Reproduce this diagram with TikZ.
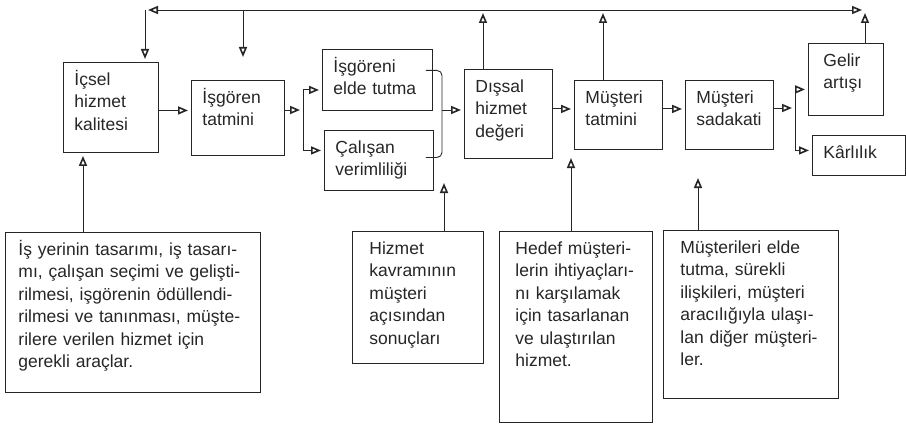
\documentclass[tikz,border=0pt]{standalone}
\usepackage{fontspec}
\setmainfont{Liberation Sans}
\usetikzlibrary{arrows.meta}
\newcommand{\boxfont}{\fontsize{17.5pt}{22.5pt}\selectfont}
\tikzstyle{ubox} = [rectangle, draw, anchor=north west, align=left, inner xsep=11pt, inner ysep=0pt, text height=23pt, font=\boxfont]
\tikzstyle{lbox} = [ubox, inner xsep=17pt]
\tikzstyle{line} = [draw, ->, shorten >=3pt]

\begin{document}
\begin{tikzpicture}[x=1pt, y=-1pt, line width=0.9pt, color=black!85,
    >={Triangle[open, length=10pt, width=8pt, line width=1.6pt]}]
    \useasboundingbox (0,0) rectangle (906,428);

    \node[ubox, text width=73pt, text depth=67pt] (icsel) at (63,62) {İçsel\\hizmet\\kalitesi};
    \node[ubox, text width=71pt, text depth=52pt] (isgoren) at (191,80) {İşgören\\tatmini};
    \node[ubox, text width=88pt, text depth=38pt] (elde) at (322,49) {İşgöreni\\elde tutma};
    \node[ubox, text width=87pt, text depth=37pt] (verim) at (324,130) {Çalışan\\verimliliği};
    \node[ubox, text width=66pt, text depth=66pt] (dissal) at (464,69) {Dışsal\\hizmet\\değeri};
    \node[ubox, text width=66pt, text depth=46pt] (mtatmin) at (574,80) {Müşteri\\tatmini};
    \node[ubox, text width=66pt, text depth=46pt] (sadakat) at (685,80) {Müşteri\\sadakati};
    \node[ubox, text width=45pt, text depth=49pt, inner xsep=15pt] (gelir) at (808,43) {Gelir\\artışı};
    \node[ubox, text width=71pt, text depth=17pt] (karlilik) at (812,135) {Kârlılık};

    \node[lbox, text width=229pt, text depth=137pt, inner xsep=13pt] (tasarim) at (5,232)
        {İş yerinin tasarımı, iş tasarı-\\mı, çalışan seçimi ve gelişti-\\rilmesi, işgörenin ödüllendi-\\rilmesi ve tanınması, müşte-\\rilere verilen hizmet için\\gerekli araçlar.};
    \node[lbox, text width=97pt, text depth=109pt] (kavram) at (352,231)
        {Hizmet\\kavramının\\müşteri\\açısından\\sonuçları};
    \node[lbox, text width=121pt, text depth=168pt, inner xsep=16pt] (hedef) at (499,231)
        {Hedef müşteri-\\lerin ihtiyaçları-\\nı karşılamak\\için tasarlanan\\ve ulaştırılan\\hizmet.};
    \node[lbox, text width=141pt, text depth=145pt] (iliski) at (663,230)
        {Müşterileri elde\\tutma, sürekli\\ilişkileri, müşteri\\aracılığıyla ulaşı-\\lan diğer müşteri-\\ler.};

    \coordinate (tl) at (145,10);
    \coordinate (tr) at (865,10);
    \coordinate (tdown) at (243,60);
    \coordinate (d1) at ([xshift=19pt]dissal.north west);
    \coordinate (m1) at ([xshift=29pt]mtatmin.north west);
    \coordinate (g1) at ([xshift=57pt]gelir.north west);
    \draw[<->, shorten <=3pt, shorten >=3pt] (tl) -- (tr);
    \path[line] (tl) -- (tl |- icsel.north);
    \path[line] (tdown |- tl) -- (tdown);
    \path[line] (d1) -- (d1 |- tl);
    \path[line] (m1) -- (m1 |- tl);
    \path[line] (g1) -- (tr);

    \coordinate (h1) at ([yshift=-3pt]icsel.east);
    \coordinate (j1) at (303,110);
    \path[line] (h1) -- (h1 -| isgoren.west);
    \path[line] (j1 -| isgoren.east) -- (j1);
    \path[line] (j1) |- ([yshift=-10pt]elde.west);
    \path[line] (j1) |- ([yshift=10pt]verim.west);

    \coordinate (bx) at (442,110);
    \draw[rounded corners=5pt] ([xshift=-7pt, yshift=9.5pt]elde.east) -| (bx)
        |- ([xshift=-8pt, yshift=3pt]verim.east);
    \path[line] (bx) -- (bx -| dissal.west);

    \coordinate (h2) at ([yshift=5pt]dissal.east);
    \coordinate (h3) at ([yshift=6pt]mtatmin.east);
    \coordinate (j2) at (795,108);
    \path[line] (h2) -- (h2 -| mtatmin.west);
    \path[line] (h3) -- (h3 -| sadakat.west);
    \path[line] (j2 -| sadakat.east) -- (j2);
    \path[line] (j2) |- ([yshift=-10pt]gelir.west);
    \path[line] (j2) |- ([yshift=5pt]karlilik.west);

    \coordinate (u1) at ([xshift=20pt]icsel.south west);
    \coordinate (u2) at (444,180);
    \coordinate (u3) at (571,155);
    \coordinate (u4) at (698,175);
    \path[line] (u1 |- tasarim.north) -- (u1);
    \path[line] (u2 |- kavram.north) -- (u2);
    \path[line] (u3 |- hedef.north) -- (u3);
    \path[line] (u4 |- iliski.north) -- (u4);
\end{tikzpicture}
\end{document}
